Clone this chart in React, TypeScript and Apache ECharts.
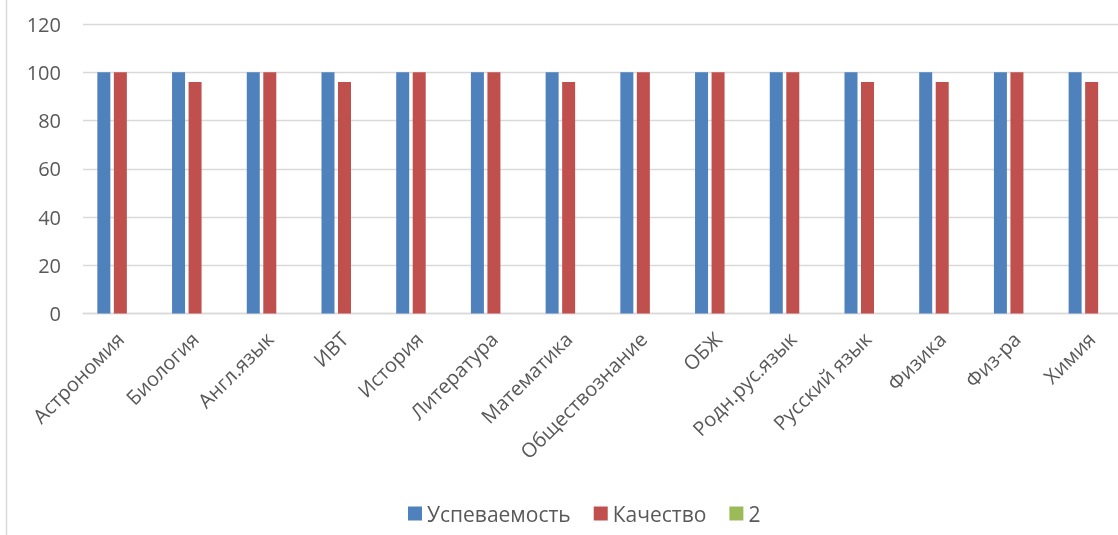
import React, { useEffect, useRef } from "react";
import * as echarts from "echarts";

const categories = [
  "Астрономия", "Биология", "Англ.язык", "ИВТ", "История", "Литература", "Математика",
  "Обществознание", "ОБЖ", "Родн.рус.язык", "Русский язык", "Физика", "Физ-ра", "Химия",
];
const uspevaemost = [100, 100, 100, 100, 100, 100, 100, 100, 100, 100, 100, 100, 100, 100];
const kachestvo = [100, 96, 100, 96, 100, 100, 96, 100, 100, 100, 96, 96, 100, 96];
const series2: (number | null)[] = [];
const yTicks = { min: 0, max: 120, interval: 20 };

export default function App() {
  const ref = useRef<HTMLDivElement>(null);
  useEffect(() => {
    const chart = echarts.init(ref.current!, null, { renderer: "svg" });
    const font = "'Open Sans', sans-serif";
    chart.setOption({
      animation: false,
      textStyle: { fontFamily: font },
      grid: { left: 83, top: 24, width: 1046, height: 289.5, containLabel: false },
      legend: {
        top: 498,
        left: 403,
        itemWidth: 14,
        itemHeight: 14,
        itemGap: 23,
        icon: "rect",
        textStyle: { fontSize: 21, color: "#595959", fontFamily: font },
        data: ["Успеваемость", "Качество", "2"],
      },
      xAxis: {
        type: "category",
        data: categories,
        axisLine: { lineStyle: { color: "#d9d9d9", width: 1.3 } },
        axisTick: { show: false },
        axisLabel: { rotate: 45, fontSize: 20, color: "#595959", margin: 22, interval: 0, fontFamily: font },
      },
      yAxis: {
        type: "value",
        min: yTicks.min,
        max: yTicks.max,
        interval: yTicks.interval,
        axisLine: { show: false },
        axisTick: { show: false },
        splitLine: { lineStyle: { color: "#d9d9d9", width: 1.3 } },
        axisLabel: { fontSize: 20, color: "#595959", margin: 22, fontFamily: font },
      },
      series: [
        { name: "Успеваемость", type: "bar", data: uspevaemost, barWidth: 13, barGap: "27%", itemStyle: { color: "#4F81BD" } },
        { name: "Качество", type: "bar", data: kachestvo, barWidth: 13, barGap: "27%", itemStyle: { color: "#C0504D" } },
        { name: "2", type: "bar", data: series2, barWidth: 13, barGap: "27%", itemStyle: { color: "#9BBB59" } },
      ],
      graphic: [
        { type: "line", shape: { x1: 6.5, y1: 0, x2: 6.5, y2: 535 }, style: { stroke: "#d9d9d9", lineWidth: 1.5 } },
      ],
    });
    return () => chart.dispose();
  }, []);
  return <div ref={ref} style={{ width: 1140, height: 535, position: "fixed", left: 0, top: 0 }} />;
}
